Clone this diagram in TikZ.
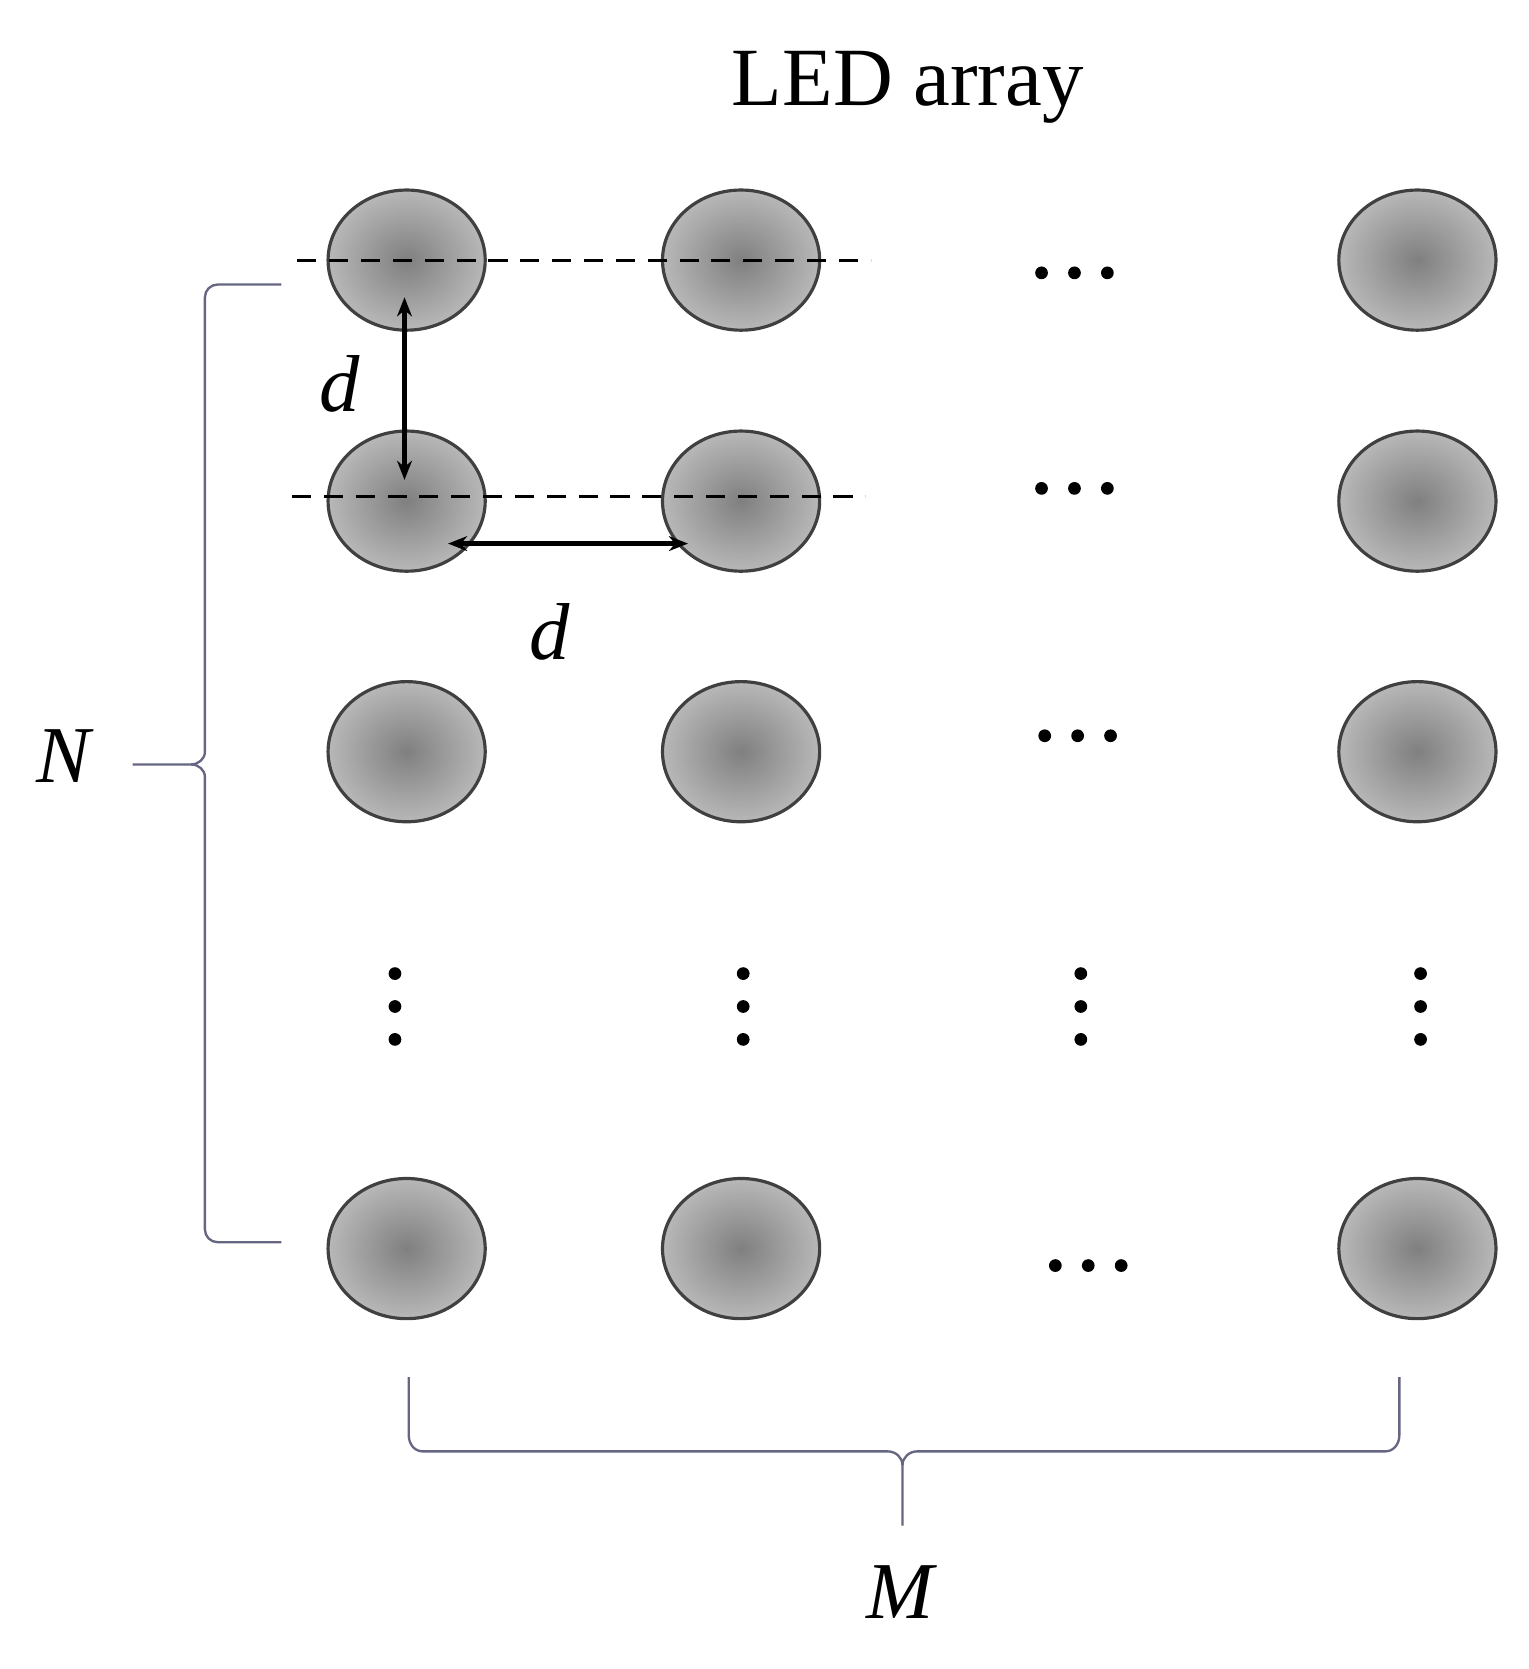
\documentclass[tikz,border=0pt]{standalone}
\usepackage{fontspec}
\setmainfont{Liberation Serif}
\usetikzlibrary{shapes.geometric,arrows.meta}
\begin{document}
\begin{tikzpicture}[x=0.5pt,y=-0.5pt,
  led/.style={ellipse,draw=black!75,line width=1.5pt,minimum width=74pt,minimum height=66pt,inner sep=0pt,shading=radial,inner color=black!50,outer color=black!28},
  dsh/.style={line width=1.4pt,dash pattern=on 9pt off 6pt},
  arr/.style={{Stealth[length=9pt,width=7pt]}-{Stealth[length=9pt,width=7pt]},line width=2pt},
  brc/.style={draw=black!45!blue!20!gray,line width=1.1pt},
  lab/.style={font=\fontsize{38}{40}\selectfont\itshape},
  hd/.style={font=\fontsize{39}{42}\selectfont},
  vd/.style={circle,fill=black,inner sep=0pt,minimum size=6pt}]
\useasboundingbox (0,0) rectangle (1440,1572);
\node[hd] (title) at (855,82) {LED array};
\foreach \c/\x in {1/383,2/698,3/1335}{
  \foreach \r/\y in {1/245,2/472,3/708,5/1176}{
    \node[led] (l\r\c) at (\x,\y) {};
  }
}
\coordinate (a1) at (280,245); \coordinate (a2) at (820,245);
\coordinate (b1) at (275,468); \coordinate (b2) at (815,468);
\draw[dsh] (a1) -- (a2);
\draw[dsh] (b1) -- (b2);
\coordinate (v1) at (381,280); \coordinate (v2) at (381,452);
\draw[arr] (v1) -- (v2);
\coordinate (h1) at (422,512); \coordinate (h2) at (648,512);
\draw[arr] (h1) -- (h2);
\node[lab] (d1) at (320,362) {d};
\node[lab] (d2) at (518,595) {d};
\foreach \n/\x/\y in {1/1012/257,2/1012/460,3/1015/693,4/1025/1192}{
  \foreach \k in {-1,0,1}{
    \node[vd] (dt\n\k) at (\x+\k*31,\y) {};
  }
}
\foreach \n/\x in {1/372,2/700,3/1018,4/1338}{
  \foreach \k/\y in {1/917,2/948,3/979}{
    \node[vd] (vd\n\k) at (\x,\y) {};
  }
}
\draw[brc] (265,268) -- (205,268) to[out=180,in=90] (193,280) -- (193,708) to[out=-90,in=0] (180,720) -- (125,720);
\draw[brc] (180,720) to[out=0,in=90] (193,732) -- (193,1158) to[out=-90,in=180] (205,1170) -- (265,1170);
\node[lab] (N) at (60,712) {N};
\draw[brc] (385,1297) -- (385,1352) to[out=-90,in=180] (398,1367) -- (836,1367) to[out=0,in=90] (850,1380) -- (850,1437);
\draw[brc] (1318,1297) -- (1318,1352) to[out=-90,in=0] (1305,1367) -- (864,1367) to[out=180,in=90] (850,1380);
\node[lab] (M) at (848,1500) {M};
\end{tikzpicture}
\end{document}
